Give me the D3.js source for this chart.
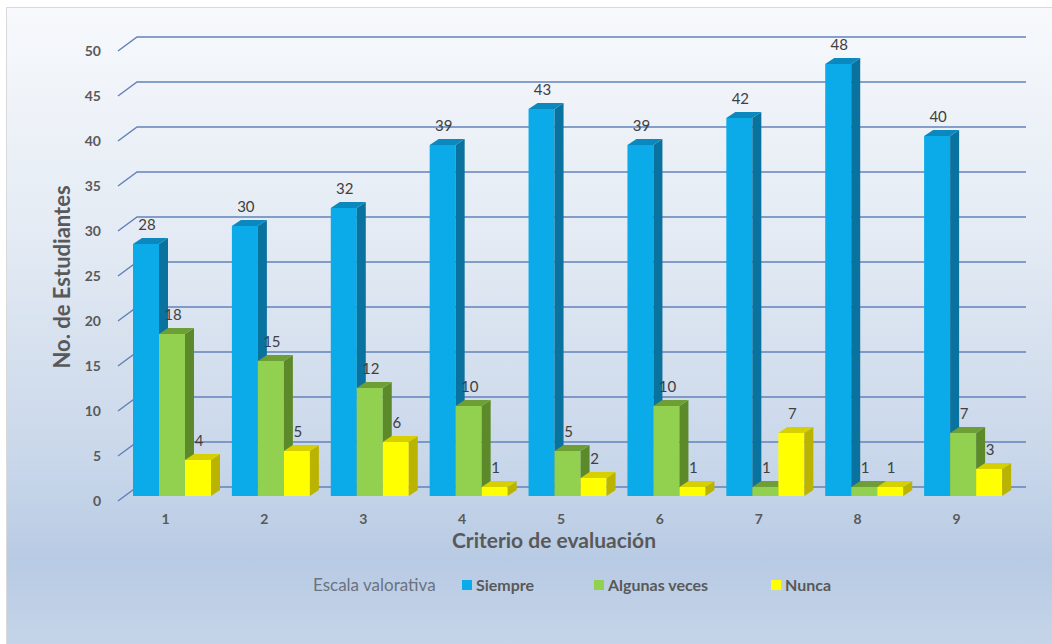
<!DOCTYPE html>
<html>
<head>
<meta charset="utf-8">
<script src="https://cdn.jsdelivr.net/npm/d3@7"></script>
<style>
  html, body { margin: 0; padding: 0; background: #fff; }
  svg { display: block; }
</style>
</head>
<body>
<svg id="chart"></svg>
<script>
// values
const criterios = ["1", "2", "3", "4", "5", "6", "7", "8", "9"]
const siempre = [28, 30, 32, 39, 43, 39, 42, 48, 40]
const algunasVeces = [18, 15, 12, 10, 5, 10, 1, 1, 7]
const nunca = [4, 5, 6, 1, 2, 1, 7, 1, 3]
const yTicks = [0, 5, 10, 15, 20, 25, 30, 35, 40, 45, 50]
const seriesNames = ["Siempre", "Algunas veces", "Nunca"]

const width = 1052
const height = 644

const colors = [
    { front: "#0aabe8", side: "#0a729f", top: "#0b88bd" },
    { front: "#92d050", side: "#5c8a2b", top: "#6d9f36" },
    { front: "#ffff00", side: "#bab300", top: "#d6d000" }
]

const depth = { dx: 9, dy: -6 }
const wall = { dx: 19, dy: -14 }

const svg = d3.select("#chart")
    .attr("width", width)
    .attr("height", height)
    .style("font-family", "Lato, 'Open Sans', sans-serif")

const defs = svg.append("defs")
const grad = defs.append("linearGradient")
    .attr("id", "bg")
    .attr("x1", 0).attr("y1", 0).attr("x2", 0).attr("y2", 1)
grad.selectAll("stop")
    .data([
        [0, "#f7f9fc"],
        [0.35, "#e4ebf4"],
        [0.7, "#c9d7ea"],
        [0.86, "#b8cbe4"],
        [1, "#c6d5e9"]
    ])
    .enter()
    .append("stop")
    .attr("offset", d => d[0])
    .attr("stop-color", d => d[1])

svg.append("rect")
    .attr("x", 6.5).attr("y", 7.5)
    .attr("width", width).attr("height", height)
    .attr("fill", "url(#bg)")
    .attr("stroke", "#d9d9d9")

const x = d3.scaleBand()
    .domain(criterios)
    .range([118, 1008])

const yBar = d3.scaleLinear().domain([0, 50]).range([496, 46])
const yFront = d3.scaleLinear().domain([0, 50]).range([501, 51])

// gridlines: short diagonal from the front edge, then along the back wall
const grid = svg.append("g")
    .attr("fill", "none")
    .attr("stroke", "#6382ba")
    .attr("stroke-width", 1.5)

grid.selectAll("path")
    .data(yTicks)
    .enter()
    .append("path")
    .attr("d", d => {
        const fy = yFront(d)
        return `M${x.range()[0]},${fy} L${x.range()[0] + wall.dx},${fy + wall.dy} L1026,${fy + wall.dy}`
    })

// y tick labels
svg.append("g")
    .selectAll("text")
    .data(yTicks)
    .enter()
    .append("text")
    .attr("x", 101)
    .attr("y", d => yFront(d))
    .attr("dy", "0.35em")
    .attr("text-anchor", "end")
    .attr("font-size", 14)
    .attr("font-weight", "bold")
    .attr("fill", "#595959")
    .text(d => d)

const barW = 26
const offset = 15
const allSeries = [siempre, algunasVeces, nunca]

const bars = svg.append("g")

criterios.forEach((c, i) => {
    allSeries.forEach((vals, s) => {
        const v = vals[i]
        const x0 = x(c) + offset + s * barW
        const x1 = x0 + barW
        const yt = yBar(v)
        const yb = yBar(0)
        const g = bars.append("g")
        g.append("rect")
            .attr("x", x0).attr("y", yt)
            .attr("width", barW).attr("height", yb - yt)
            .attr("fill", colors[s].front)
        g.append("path")
            .attr("d", `M${x1},${yt} L${x1 + depth.dx},${yt + depth.dy} L${x1 + depth.dx},${yb + depth.dy} L${x1},${yb}Z`)
            .attr("fill", colors[s].side)
        g.append("path")
            .attr("d", `M${x0},${yt} L${x0 + depth.dx},${yt + depth.dy} L${x1 + depth.dx},${yt + depth.dy} L${x1},${yt}Z`)
            .attr("fill", colors[s].top)
    })
})

// value labels
const labels = svg.append("g")
    .attr("font-size", 15)
    .attr("fill", "#404040")
    .attr("text-anchor", "middle")

criterios.forEach((c, i) => {
    allSeries.forEach((vals, s) => {
        const v = vals[i]
        labels.append("text")
            .attr("x", x(c) + offset + s * barW + barW / 2 + 1)
            .attr("y", yBar(v) + depth.dy - 8)
            .text(v)
    })
})

// category labels
svg.append("g")
    .selectAll("text")
    .data(criterios)
    .enter()
    .append("text")
    .attr("x", d => x(d) + x.bandwidth() / 2 - 2)
    .attr("y", 524)
    .attr("text-anchor", "middle")
    .attr("font-size", 14)
    .attr("font-weight", "bold")
    .attr("fill", "#595959")
    .text(d => d)

// axis titles
svg.append("text")
    .attr("x", 554)
    .attr("y", 548)
    .attr("text-anchor", "middle")
    .attr("font-size", 21)
    .attr("font-weight", "bold")
    .attr("fill", "#595959")
    .text("Criterio de evaluación")

svg.append("text")
    .attr("transform", "translate(70,277) rotate(-90)")
    .attr("text-anchor", "middle")
    .attr("font-size", 22)
    .attr("font-weight", "bold")
    .attr("fill", "#595959")
    .text("No. de Estudiantes")

// legend
const legend = svg.append("g")
legend.append("text")
    .attr("x", 313)
    .attr("y", 591)
    .attr("font-size", 17)
    .attr("fill", "#6b7280")
    .text("Escala valorativa")

const legendX = [462, 594, 771]
seriesNames.forEach((name, s) => {
    legend.append("rect")
        .attr("x", legendX[s]).attr("y", 580)
        .attr("width", 10).attr("height", 10)
        .attr("fill", colors[s].front)
    legend.append("text")
        .attr("x", legendX[s] + 14)
        .attr("y", 591)
        .attr("font-size", 16)
        .attr("font-weight", "bold")
        .attr("fill", "#595959")
        .text(name)
})
</script>
</body>
</html>
